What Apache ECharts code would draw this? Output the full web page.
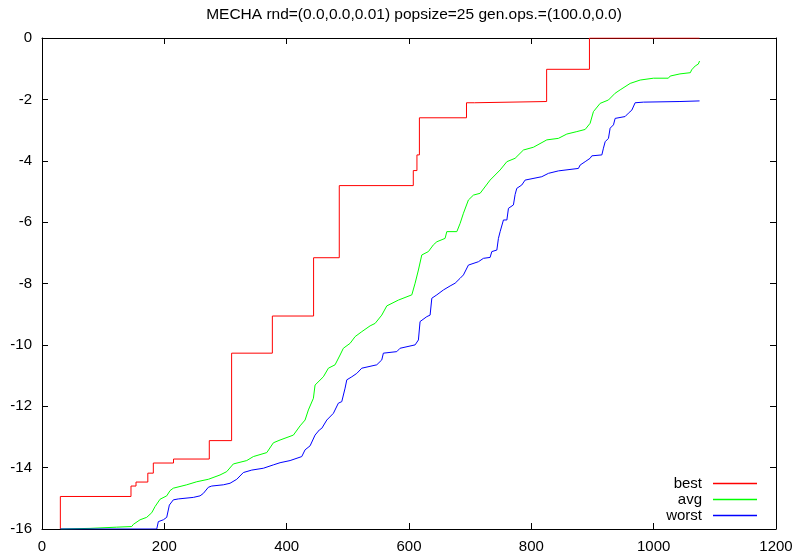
<!DOCTYPE html>
<html>
<head>
<meta charset="utf-8">
<script src="https://cdn.jsdelivr.net/npm/echarts@6/dist/echarts.min.js"></script>
<style>
  html, body { margin: 0; padding: 0; background: #fff; }
  #chart { width: 798px; height: 553px; }
</style>
</head>
<body>
<div id="chart"></div>
<script>
var titleText = 'MECHA rnd=(0.0,0.0,0.01) popsize=25 gen.ops.=(100.0,0.0)';
var seriesNames = ['best', 'avg', 'worst'];
var xTicks = [0, 200, 400, 600, 800, 1000, 1200];
var yTicks = [-16, -14, -12, -10, -8, -6, -4, -2, 0];

// best: value changes to y at x (drawn as steps)
var best = [
  [30, -16], [30, -14.94], [145.5, -14.6], [153.7, -14.47], [173, -14.18],
  [182, -13.85], [215, -13.72], [273.5, -13.12], [310, -10.27], [376.6, -9.06],
  [444, -7.16], [486, -4.81], [607, -4.32], [613, -3.81], [617, -2.6],
  [694, -2.11], [707, -2.07], [825, -1.02], [895, 0], [1075, 0]
];

var avg = [
  [30.6, -16], [78.5, -15.98], [122, -15.94], [146.7, -15.92], [149.3, -15.85],
  [160.3, -15.7], [171.2, -15.62], [179.4, -15.47], [184.8, -15.27], [193, -15.03],
  [203.9, -14.92], [209.3, -14.75], [214.7, -14.67], [236.6, -14.56], [253, -14.46],
  [272, -14.38], [291, -14.24], [302, -14.13], [312.8, -13.88], [334.7, -13.77],
  [345.5, -13.64], [367.5, -13.51], [378.3, -13.19], [389.2, -13.1], [411, -12.94],
  [421.9, -12.64], [430.1, -12.45], [435.5, -12.12], [443.7, -11.74], [446.4, -11.31],
  [460, -11.04], [468.2, -10.76], [479.1, -10.65], [487.3, -10.33], [492.7, -10.11],
  [503.7, -9.95], [511.9, -9.73], [522.8, -9.57], [536.4, -9.38], [544.6, -9.3],
  [555.5, -9.03], [563.7, -8.73], [582.7, -8.54], [604.6, -8.37], [610, -7.99],
  [615.4, -7.56], [620.9, -7.07], [631.7, -6.96], [639.9, -6.74], [645.5, -6.64],
  [659, -6.53], [661.8, -6.31], [678.2, -6.31], [683.6, -6.04], [689, -5.71],
  [697.1, -5.28], [705.3, -5.12], [716.3, -5.06], [732.6, -4.63], [749, -4.3],
  [760, -4.03], [773.5, -3.92], [787.1, -3.65], [803.4, -3.56], [825.3, -3.32],
  [844.3, -3.27], [858, -3.13], [874.4, -3.05], [888, -2.98], [896.1, -2.78],
  [901.5, -2.4], [912.5, -2.13], [926.1, -2.02], [937, -1.8], [945.2, -1.69],
  [961.6, -1.48], [978, -1.37], [999.7, -1.31], [1024, -1.31], [1027, -1.24],
  [1043, -1.17], [1060, -1.13], [1062, -1.04], [1068, -0.91], [1073, -0.85],
  [1075, -0.75]
];

var worst = [
  [30, -16], [187.6, -16], [190.2, -15.76], [198.4, -15.7], [203.9, -15.62],
  [208.2, -15.22], [214.7, -15.05], [222.9, -15.02], [247.4, -14.97], [258.4, -14.92],
  [263.8, -14.84], [272, -14.64], [277.5, -14.6], [296.5, -14.56], [307.4, -14.51],
  [318.4, -14.38], [329.2, -14.16], [342.9, -14.08], [361.9, -14.02], [378.3, -13.91],
  [389.2, -13.84], [405.6, -13.77], [424.7, -13.64], [430.1, -13.42], [438.3, -13.29],
  [446.4, -12.94], [453.5, -12.77], [457.4, -12.72], [465.6, -12.45], [476.4, -12.23],
  [484.5, -11.9], [490.1, -11.85], [495.5, -11.41], [498.3, -11.14], [506.5, -11.04],
  [514.6, -10.93], [522.8, -10.76], [547.3, -10.65], [555.5, -10.49], [558.1, -10.27],
  [580, -10.22], [585.4, -10.11], [610, -10], [615.4, -9.84], [618.1, -9.24],
  [629.1, -9.08], [634.5, -9.03], [637.3, -8.48], [645.5, -8.37], [656.3, -8.21],
  [667.2, -8.08], [675.4, -7.99], [683.6, -7.83], [689, -7.72], [697.1, -7.4],
  [713.5, -7.29], [721.7, -7.18], [732.6, -7.15], [735.4, -6.96], [743.6, -6.91],
  [746.2, -6.53], [749, -6.31], [754.4, -5.93], [760, -5.93], [762.6, -5.55],
  [770.7, -5.44], [773.5, -5.1], [776.2, -4.9], [784.4, -4.79], [789.8, -4.63],
  [817.1, -4.52], [828, -4.41], [844.3, -4.33], [877, -4.25], [879.8, -4.14],
  [888, -4.03], [896.1, -3.92], [898.9, -3.84], [915.3, -3.81], [917.9, -3.59],
  [920.7, -3.38], [926.1, -3.27], [928.8, -2.94], [934.3, -2.83], [937, -2.62],
  [953.3, -2.56], [958.7, -2.45], [964.3, -2.35], [969.7, -2.11], [983.4, -2.09],
  [1043, -2.07], [1075, -2.05]
];

var font = 'Liberation Sans';
var xMin = xTicks[0], xMax = xTicks[xTicks.length - 1];
var yMin = yTicks[0], yMax = yTicks[yTicks.length - 1];

function plain(v) { return String(v); }

function xAxisDef(pos, labels) {
  return {
    type: 'value', position: pos, min: xMin, max: xMax, interval: 200,
    axisLine: { onZero: false, lineStyle: { color: '#000', width: 1 } },
    axisTick: { inside: true, length: 6, lineStyle: { color: '#000' } },
    axisLabel: { show: labels, color: '#000', fontFamily: font, fontSize: 15, margin: 10, formatter: plain },
    splitLine: { show: false }
  };
}
function yAxisDef(pos, labels) {
  return {
    type: 'value', position: pos, min: yMin, max: yMax, interval: 2,
    axisLine: { show: true, onZero: false, lineStyle: { color: '#000', width: 1 } },
    axisTick: { show: true, inside: true, length: 6, lineStyle: { color: '#000' } },
    axisLabel: { show: labels, color: '#000', fontFamily: font, fontSize: 15, margin: 10, formatter: plain },
    splitLine: { show: false }
  };
}

var chart = echarts.init(document.getElementById('chart'));
chart.setOption({
  animation: false,
  backgroundColor: '#fff',
  title: {
    text: titleText, left: 409, top: 2, textAlign: 'center',
    textStyle: { fontFamily: font, fontSize: 15.5, fontWeight: 'normal', color: '#000' }
  },
  legend: {
    orient: 'vertical', align: 'right', right: 36, top: 471,
    itemWidth: 44, itemHeight: 1.5, itemGap: 1, icon: 'rect',
    textStyle: { fontFamily: font, fontSize: 15, color: '#000', padding: [0, 6, 0, 0] },
    data: seriesNames
  },
  grid: { left: 42, right: 22, top: 38, bottom: 24, outerBoundsMode: 'none' },
  xAxis: [xAxisDef('bottom', true), xAxisDef('top', false)],
  yAxis: [yAxisDef('left', true), yAxisDef('right', false)],
  series: [
    { name: seriesNames[0], type: 'line', step: 'end', data: best, showSymbol: false,
      itemStyle: { color: '#ff0000' }, lineStyle: { color: '#ff0000', width: 1 } },
    { name: seriesNames[1], type: 'line', data: avg, showSymbol: false,
      itemStyle: { color: '#00ff00' }, lineStyle: { color: '#00ff00', width: 1 } },
    { name: seriesNames[2], type: 'line', data: worst, showSymbol: false,
      itemStyle: { color: '#0000ff' }, lineStyle: { color: '#0000ff', width: 1 } }
  ]
});
</script>
</body>
</html>
